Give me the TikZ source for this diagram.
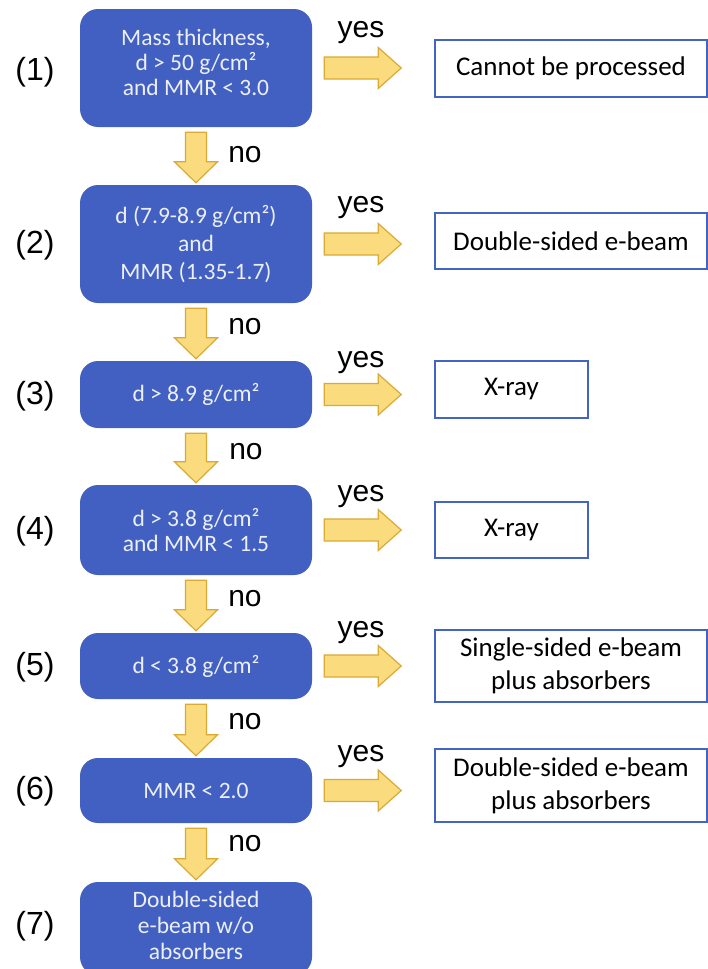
\documentclass[tikz,border=0pt]{standalone}
\usepackage{fontspec}
\setmainfont{Carlito}
\newfontfamily\arialf{Liberation Sans}
\usetikzlibrary{calc}
\definecolor{boxblue}{RGB}{65,96,193}
\definecolor{boxtext}{RGB}{236,239,248}
\definecolor{resborder}{RGB}{68,100,196}
\definecolor{yfill}{RGB}{250,219,125}
\definecolor{yedge}{RGB}{218,170,52}
\tikzset{
 cond/.style={fill=boxblue, rounded corners=18pt, text=boxtext, align=center,
   font=\fontsize{23.5}{25}\selectfont, inner sep=0pt, minimum width=232pt},
 result/.style={draw=resborder, line width=1.5pt, fill=white, align=center,
   font=\fontsize{27}{33}\selectfont, inner sep=0pt, text=black},
 steplabel/.style={font=\arialf\fontsize{32}{36}\selectfont, inner sep=0pt},
 answer/.style={font=\arialf\fontsize{30}{34}\selectfont, inner sep=0pt},
 yarrow/.style={fill=yfill, draw=yedge, line width=1.2pt, line join=miter},
}
\newcommand{\yelldown}[2]{%
 \filldraw[yarrow] let \p1=(#1.south), \p2=(#2.north) in
 (\x1-10.5pt,\y1-5pt) -- (\x1+10.5pt,\y1-5pt) -- (\x1+10.5pt,\y2+23pt) --
 (\x1+21.5pt,\y2+23pt) -- (\x1,\y2+2pt) -- (\x1-21.5pt,\y2+23pt) --
 (\x1-10.5pt,\y2+23pt) -- cycle;}
\newcommand{\yellright}[2]{%
 \filldraw[yarrow] let \p1=(#1.east), \p2=(#2.west) in
 (\x1+12pt,\y1+11pt) -- (\x2-56pt,\y1+11pt) -- (\x2-56pt,\y1+20.5pt) --
 (\x2-33pt,\y1) -- (\x2-56pt,\y1-20.5pt) -- (\x2-56pt,\y1-11pt) --
 (\x1+12pt,\y1-11pt) -- cycle;}
\begin{document}
\begin{tikzpicture}[x=1pt,y=-1pt]
\useasboundingbox (0,0) rectangle (708,969);
\fill[white] (0,0) rectangle (708,969);
% condition boxes
\node[cond, minimum height=118pt] (b1) at (196,68) {Mass thickness,\\d > 50 g/cm²\\and MMR < 3.0\\[-13pt]\mbox{}};
\node[cond, minimum height=118pt, font=\fontsize{23.5}{28}\selectfont] (b2) at (196,244) {d (7.9-8.9 g/cm²)\\and\\MMR (1.35-1.7)};
\node[cond, minimum height=67pt] (b3) at (196,394.5) {d > 8.9 g/cm²};
\node[cond, minimum height=90pt] (b4) at (196,530) {d > 3.8 g/cm²\\and MMR < 1.5};
\node[cond, minimum height=66pt] (b5) at (196,666) {d < 3.8 g/cm²};
\node[cond, minimum height=65pt] (b6) at (196,790.5) {MMR < 2.0};
\node[cond, minimum height=93pt, font=\fontsize{23.5}{26}\selectfont] (b7) at (196,928.5) {Double-sided\\e-beam w/o\\absorbers\\[-20pt]\mbox{}};
% result boxes
\node[result, minimum width=272pt, minimum height=57pt] (r1) at (571,68.5) {Cannot be processed};
\node[result, minimum width=272pt, minimum height=56pt] (r2) at (571,241) {Double-sided e-beam};
\node[result, minimum width=153pt, minimum height=57pt] (r3) at (511.5,389.5) {X-ray};
\node[result, minimum width=153pt, minimum height=56pt] (r4) at (511.5,530) {X-ray};
\node[result, minimum width=272pt, minimum height=72pt] (r5) at (571,666) {Single-sided e-beam\\plus absorbers};
\node[result, minimum width=272pt, minimum height=73pt] (r6) at (571,785.5) {Double-sided e-beam\\plus absorbers};
% step labels
\node[steplabel] (l1) at (35,72) {(1)};
\node[steplabel] (l2) at (35,245) {(2)};
\node[steplabel] (l3) at (35,396) {(3)};
\node[steplabel] (l4) at (35,531) {(4)};
\node[steplabel] (l5) at (35,667) {(5)};
\node[steplabel] (l6) at (35,791) {(6)};
\node[steplabel] (l7) at (35,926) {(7)};
% down arrows
\yelldown{b1}{b2}
\yelldown{b2}{b3}
\yelldown{b3}{b4}
\yelldown{b4}{b5}
\yelldown{b5}{b6}
\yelldown{b6}{b7}
% right arrows
\yellright{b1}{r1}
\yellright{b2}{r2}
\yellright{b3}{r3}
\yellright{b4}{r4}
\yellright{b5}{r5}
\yellright{b6}{r6}
% yes / no
\node[answer] (y1) at (361,33) {yes};
\node[answer] (y2) at (361,208) {yes};
\node[answer] (y3) at (361,363) {yes};
\node[answer] (y4) at (361,497) {yes};
\node[answer] (y5) at (361,633) {yes};
\node[answer] (y6) at (361,757) {yes};
\node[answer] (n1) at (245,155) {no};
\node[answer] (n2) at (245,327) {no};
\node[answer] (n3) at (246,452) {no};
\node[answer] (n4) at (245,599) {no};
\node[answer] (n5) at (245,722) {no};
\node[answer] (n6) at (245,844) {no};
\end{tikzpicture}
\end{document}
